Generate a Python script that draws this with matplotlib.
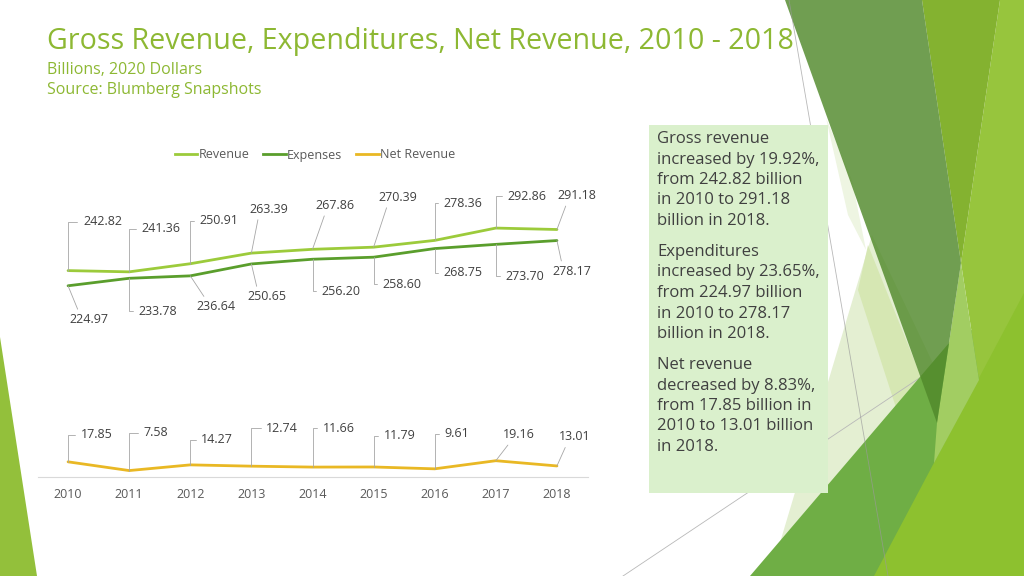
import matplotlib
matplotlib.use('Agg')
import matplotlib.pyplot as plt
from matplotlib.patches import Polygon, Rectangle
from matplotlib.lines import Line2D

# ---------------- data ----------------
years = ['2010', '2011', '2012', '2013', '2014', '2015', '2016', '2017', '2018']
revenue = [242.82, 241.36, 250.91, 263.39, 267.86, 270.39, 278.36, 292.86, 291.18]
expenses = [224.97, 233.78, 236.64, 250.65, 256.20, 258.60, 268.75, 273.70, 278.17]
net_revenue = [17.85, 7.58, 14.27, 12.74, 11.66, 11.79, 9.61, 19.16, 13.01]
series_names = ['Revenue', 'Expenses', 'Net Revenue']

title = 'Gross Revenue, Expenditures, Net Revenue, 2010 - 2018'
subtitle = ['Billions, 2020 Dollars', 'Source: Blumberg Snapshots']
notes = [
    ['Gross revenue', 'increased by 19.92%,', 'from 242.82 billion', 'in 2010 to 291.18', 'billion in 2018.'],
    ['Expenditures', 'increased by 23.65%,', 'from 224.97 billion', 'in 2010 to 278.17', 'billion in 2018.'],
    ['Net revenue', 'decreased by 8.83%,', 'from 17.85 billion in', '2010 to 13.01 billion', 'in 2018.'],
]

# label placement (style, dx px, dy px) -- layout only
rev_lbl = [('b', 15, 49), ('b', 12, 43), ('b', 9, 43), ('d', 17, 44), ('d', 23, 44),
           ('d', 24, 50), ('b', 9, 37), ('b', 12, 32), ('d', 20, 34)]
exp_lbl = [('d', 21, -34), ('b', 9, -33), ('d', 26, -31), ('d', 16, -33), ('b', 9, -32),
           ('b', 9, -27), ('b', 9, -24), ('b', 10, -32), ('d', 15, -31)]
net_lbl = [('b', 13, 27), ('b', 14, 38), ('b', 11, 25), ('b', 15, 38), ('b', 10, 39),
           ('b', 10, 31), ('b', 10, 35), ('d', 23, 26), ('d', 18, 29)]

FONT = ['Open Sans', 'DejaVu Sans']
plt.rcParams['font.family'] = FONT

W, H = 1024, 576
fig = plt.figure(figsize=(W / 100, H / 100), dpi=100)

# ---------------- background decoration (pixel coords) ----------------
bg = fig.add_axes([0, 0, 1, 1], zorder=0)
bg.set_xlim(0, W)
bg.set_ylim(H, 0)
bg.axis('off')

def poly(pts, color, alpha=1.0, z=1):
    bg.add_patch(Polygon(pts, closed=True, facecolor=color, edgecolor='none', alpha=alpha, zorder=z))

# left sliver
poly([(0, 337), (37, 576), (0, 576)], '#93C03B')
# pale triangles
poly([(826, 118), (852, 180), (866, 250), (848, 215)], '#EEF5E2', z=1)
poly([(872, 235), (960, 420), (870, 576), (770, 576)], '#E4EFD2', z=1.1)
poly([(868, 245), (921, 377), (900, 420), (858, 290)], '#D3E5AC', alpha=0.8, z=1.2)
# thin line behind medium
bg.plot([623, 921], [576, 377], color='#B8B8B8', lw=0.6, zorder=1.5)
# medium green
poly([(750, 576), (949, 343), (1024, 300), (1024, 576)], '#6FAE45', z=2)
# right light column
poly([(1000, 0), (1024, 0), (1024, 300), (979, 380), (961, 263)], '#97C53D', z=3)
# big bright lower right
poly([(874, 576), (1024, 293), (1024, 576)], '#8DC12F', z=3.1)
# light kite
poly([(961, 263), (979, 380), (934, 463), (937, 423)], '#A2CD62', z=3.2)
# bright top triangle
poly([(922, 0), (1000, 0), (961, 263)], '#84B230', z=3.3)
# dark muted triangle
poly([(785, 0), (922, 0), (961, 263), (937, 423)], '#51892B', alpha=0.82, z=4)
bg.plot([789, 888], [0, 576], color='#9A9A9A', lw=0.6, alpha=0.7, zorder=5)

# text box
bg.add_patch(Rectangle((649, 125), 179, 368, facecolor='#DAF0CC', edgecolor='none', zorder=6))
y = 139
for para in notes:
    for line in para:
        bg.text(657, y, line, fontsize=12, color='#404040', va='center', ha='left', zorder=7)
        y += 20.5
    y += 10.5

# titles
bg.text(47, 42, title, fontsize=20.6, color='#8DB833', va='center', ha='left', zorder=7)
bg.text(47, 70, subtitle[0], fontsize=11.5, color='#8DB833', va='center', ha='left', zorder=7)
bg.text(47, 90, subtitle[1], fontsize=11.5, color='#8DB833', va='center', ha='left', zorder=7)

# ---------------- chart ----------------
ax_left, ax_right = 37.5, 587.5
ax_bottom_px, ax_top_px = 477, 179.5
ax = fig.add_axes([ax_left / W, (H - ax_bottom_px) / H, (ax_right - ax_left) / W,
                   (ax_bottom_px - ax_top_px) / H], zorder=2)
ax.patch.set_alpha(0)
x = list(range(len(years)))
colors = ['#9CCB3B', '#5A9E2C', '#E9B824']
for vals, c, name in zip([revenue, expenses, net_revenue], colors, series_names):
    ax.plot(x, vals, color=c, lw=2.0, solid_capstyle='round', label=name, zorder=3)

ax.set_xlim(-0.5, len(years) - 0.5)
ax.set_ylim(0, 350)
ax.set_xticks(x)
ax.set_xticklabels(years, fontsize=9, color='#595959')
ax.tick_params(axis='x', length=0, pad=8)
ax.set_yticks([])
for s in ['top', 'right', 'left']:
    ax.spines[s].set_visible(False)
ax.spines['bottom'].set_color('#D9D9D9')
ax.spines['bottom'].set_linewidth(0.8)

def add_labels(vals, specs):
    for i, (v, (st, dx, dy)) in enumerate(zip(vals, specs)):
        txt = f'{v:.2f}'
        if st == 'b':
            ax.annotate(txt, xy=(i, v), xytext=(dx, dy), textcoords='offset pixels',
                        ha='left', va='center', fontsize=9, color='#404040',
                        arrowprops=dict(arrowstyle='-', color='#A6A6A6', lw=0.6,
                                        shrinkA=2, shrinkB=0, relpos=(0, 0.5),
                                        connectionstyle='angle,angleA=0,angleB=90,rad=0'))
        else:
            rel = (0.25, 0) if dy > 0 else (0.25, 1)
            ax.annotate(txt, xy=(i, v), xytext=(dx, dy), textcoords='offset pixels',
                        ha='center', va='center', fontsize=9, color='#404040',
                        arrowprops=dict(arrowstyle='-', color='#A6A6A6', lw=0.6,
                                        shrinkA=1, shrinkB=0, relpos=rel))

add_labels(revenue, rev_lbl)
add_labels(expenses, exp_lbl)
add_labels(net_revenue, net_lbl)

handles = [Line2D([0], [0], color=c, lw=2.0) for c in colors]
fig.legend(handles, series_names, loc='center', bbox_to_anchor=(315 / W, 1 - 155 / H),
           ncol=3, frameon=False, fontsize=9, handlelength=1.8, handletextpad=0.1,
           columnspacing=1.1, labelcolor='#595959')

fig.savefig('out.png', dpi=100)
